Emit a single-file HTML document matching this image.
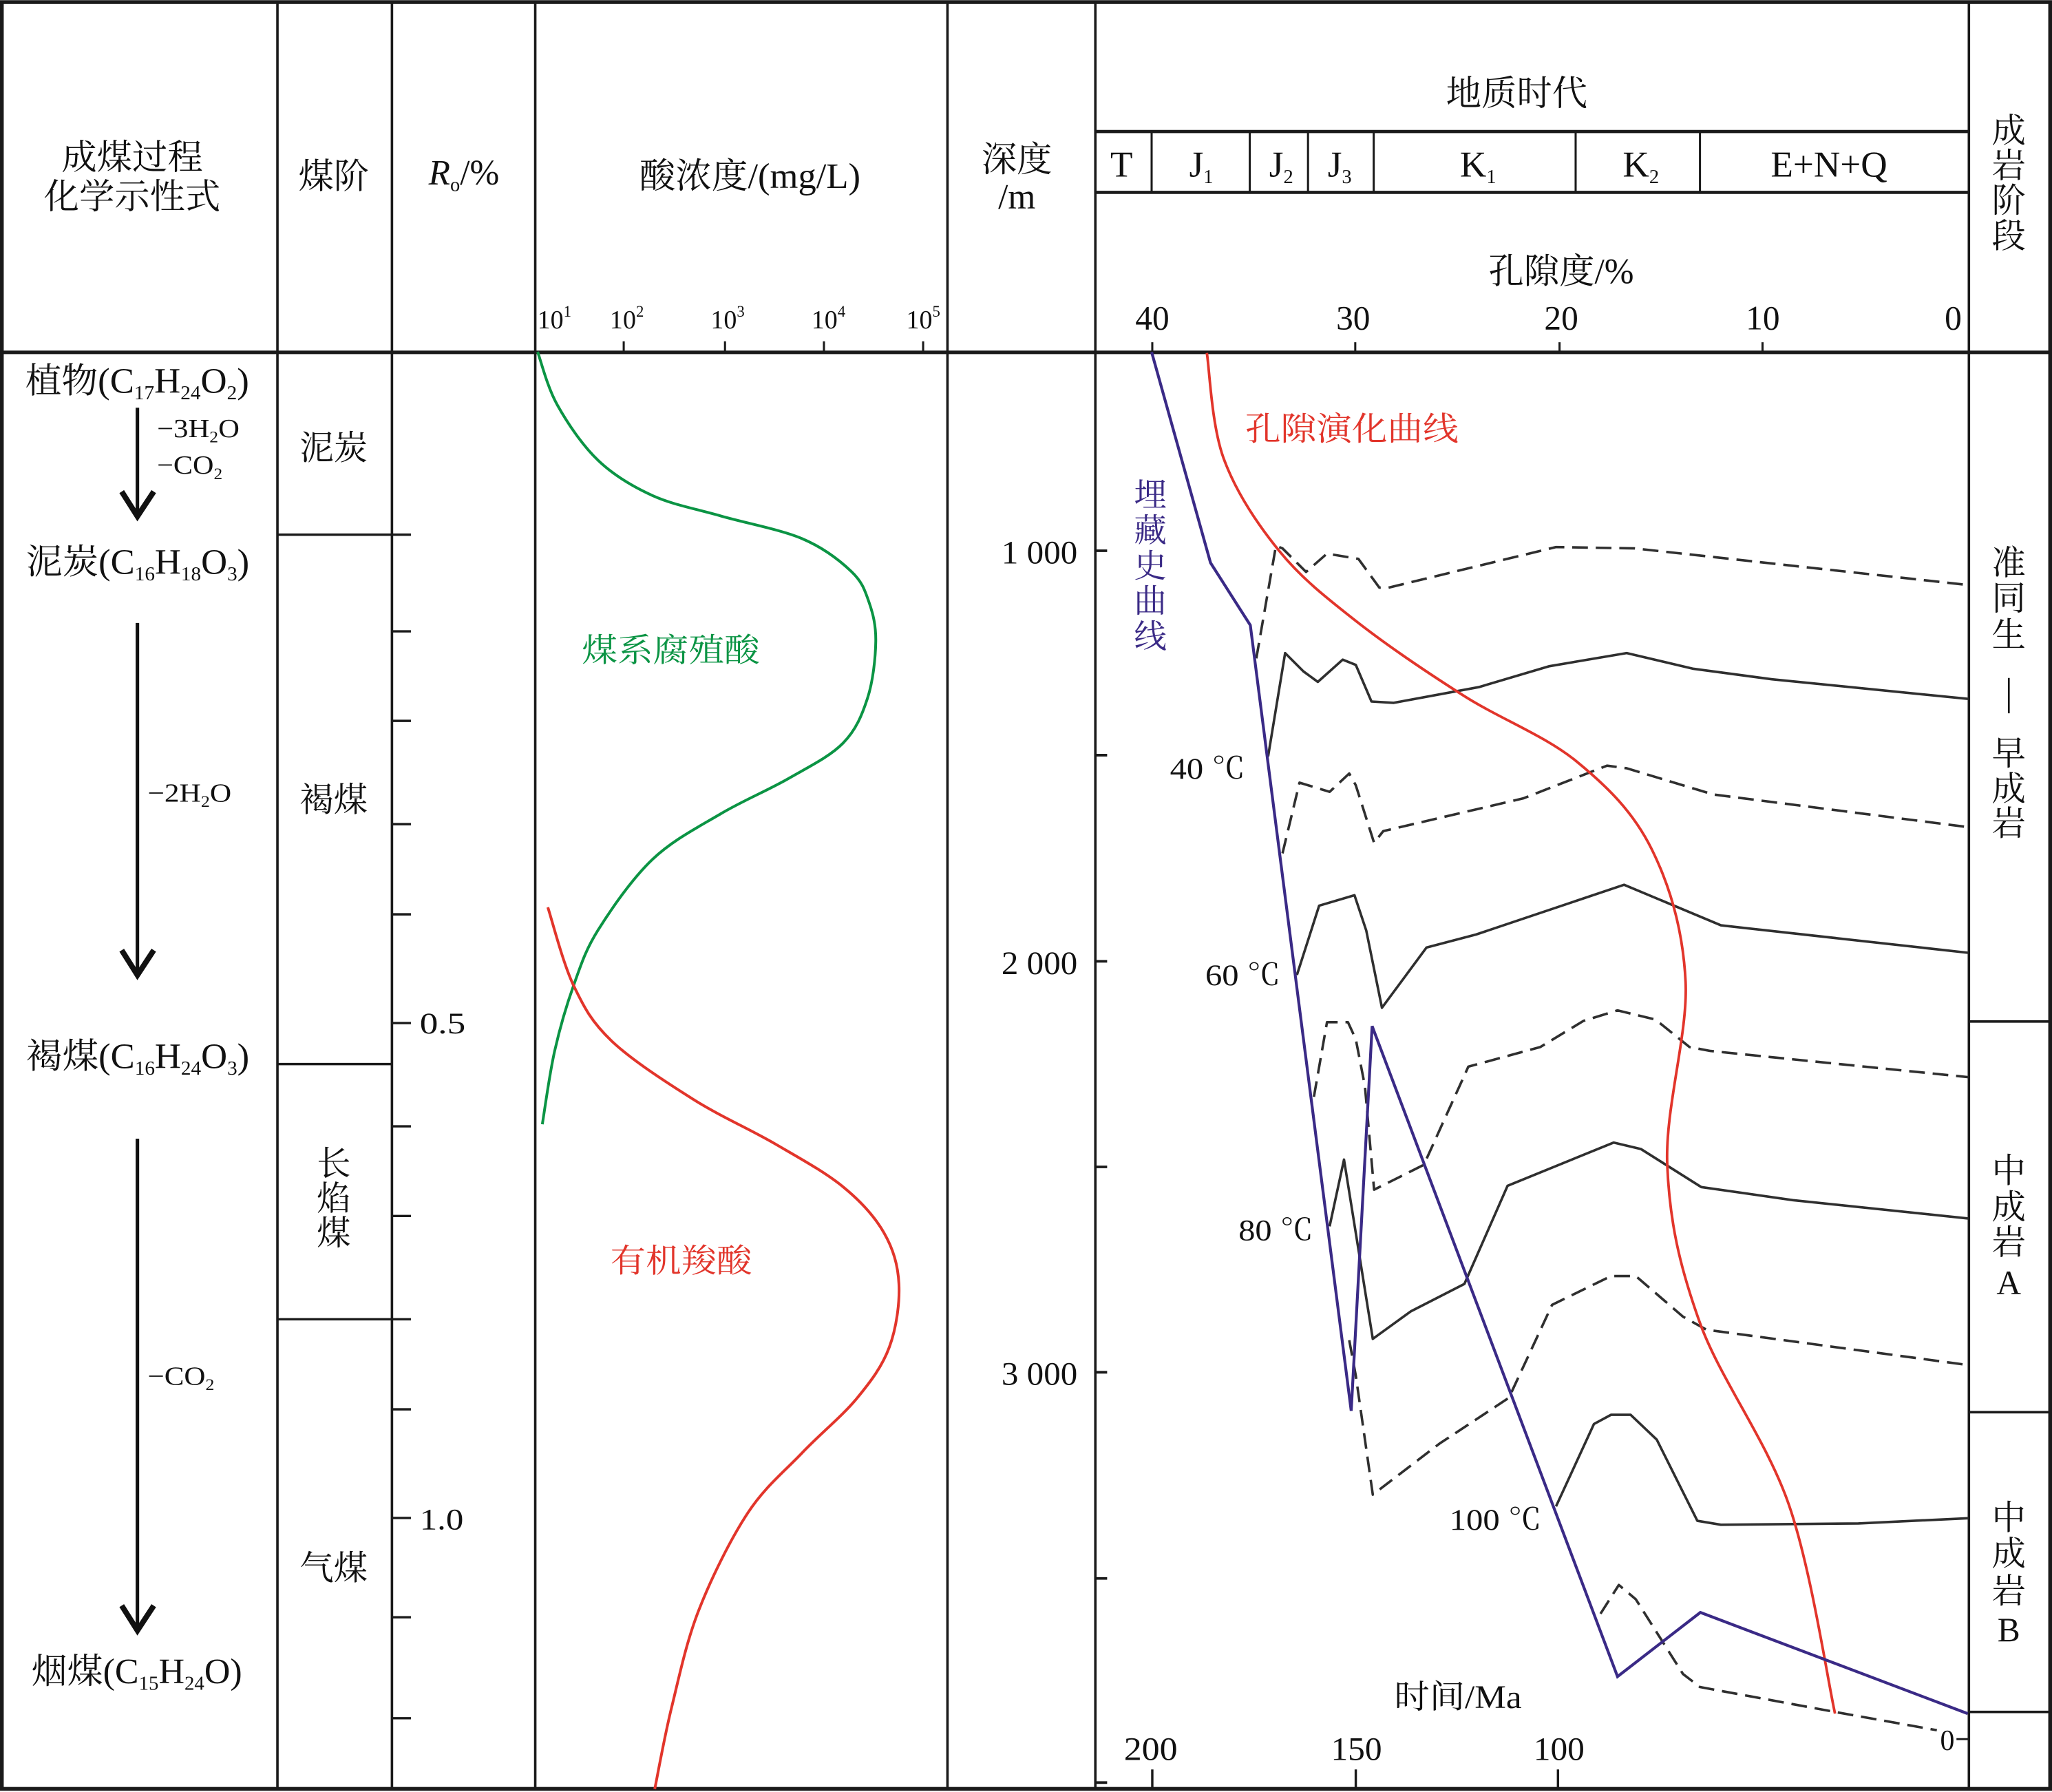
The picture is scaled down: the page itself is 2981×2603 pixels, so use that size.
<!DOCTYPE html>
<html><head><meta charset="utf-8">
<style>
html,body{margin:0;padding:0;background:#fff;}
svg{display:block;}
text{font-family:"Liberation Serif","Noto Serif CJK SC",serif;fill:#111;}
</style></head><body>
<svg xmlns="http://www.w3.org/2000/svg" width="2981" height="2603" viewBox="0 0 1568 1369.2" preserveAspectRatio="none">
<rect width="1568" height="1369.2" fill="#fff"/>

<!-- frame and grid -->
<g stroke="#1a1a1a" fill="none">
  <rect x="1.4" y="1.6" width="1565.2" height="1365.2" stroke-width="2.9"/>
  <g stroke-width="1.9">
    <path d="M212,1.6V1366.8 M299.5,1.6V1366.8 M409,1.6V1366.8 M724,1.6V1366.8 M837,1.6V1366.8 M1504.5,1.6V1366.8"/>
  </g>
  <path d="M0,269.2H1568" stroke-width="2.7"/>
  <path d="M837,100.5H1504.5 M837,147H1504.5" stroke-width="2.4"/>
  <path d="M880,100.5V147 M955,100.5V147 M999.5,100.5V147 M1049.7,100.5V147 M1204,100.5V147 M1299,100.5V147" stroke-width="1.6"/>
  <path d="M1504.5,780.5H1566.7 M1504.5,1079H1566.7 M1504.5,1308H1566.7" stroke-width="1.9"/>
  <path d="M212,408.5H314 M212,813H300 M212,1008H314" stroke-width="1.8"/>
  <path d="M299.5,482.4H314 M299.5,550.8H314 M299.5,629.7H314 M299.5,698.6H314 M299.5,781.7H314 M299.5,860.6H314 M299.5,929.1H314 M299.5,1076.8H314 M299.5,1159.8H314 M299.5,1235.7H314 M299.5,1312.8H314" stroke-width="1.8"/>
  <path d="M476.6,260.8V269 M554,260.8V269 M629.6,260.8V269 M705.4,260.8V269" stroke-width="1.6"/>
  <path d="M880.5,261.5V269 M1035.6,261.5V269 M1191.7,261.5V269 M1346.8,261.5V269" stroke-width="1.6"/>
  <path d="M837,420.8H846 M837,577H846 M837,734.5H846 M837,891.6H846 M837,1048.5H846 M837,1206H846 M837,1362H846" stroke-width="2"/>
  <path d="M880.5,1352V1366.8 M1036,1352V1366.8 M1190.5,1352V1366.8" stroke-width="1.8"/>
  <path d="M1495,1328.8H1504.5" stroke-width="1.5"/>
</g>

<!-- header texts -->
<text x="101" y="129.5" font-size="27" text-anchor="middle">成煤过程</text>
<text x="101" y="159.5" font-size="27" text-anchor="middle">化学示性式</text>
<text x="255" y="144" font-size="27" text-anchor="middle">煤阶</text>
<text x="327.5" y="141" font-size="27"><tspan font-style="italic">R</tspan><tspan font-size="15" dy="5">o</tspan><tspan dy="-5">/%</tspan></text>
<text x="488.5" y="143.5" font-size="27" textLength="169" lengthAdjust="spacingAndGlyphs">酸浓度/(mg/L)</text>
<text x="777" y="131" font-size="27" text-anchor="middle">深度</text>
<text x="777" y="159.5" font-size="27" text-anchor="middle">/m</text>
<text x="1159" y="80.5" font-size="27" text-anchor="middle">地质时代</text>
<text x="1193" y="216.5" font-size="27" text-anchor="middle">孔隙度/%</text>

<g font-size="28">
  <text x="857" y="135" text-anchor="middle">T</text>
  <text x="908.7" y="135">J<tspan font-size="15" dy="5">1</tspan></text>
  <text x="969.8" y="135">J<tspan font-size="15" dy="5">2</tspan></text>
  <text x="1014.5" y="135">J<tspan font-size="15" dy="5">3</tspan></text>
  <text x="1115.6" y="135">K<tspan font-size="15" dy="5">1</tspan></text>
  <text x="1240" y="135">K<tspan font-size="15" dy="5">2</tspan></text>
  <text x="1397.6" y="135" text-anchor="middle">E+N+Q</text>
</g>

<g font-size="26" text-anchor="middle">
  <text x="1535" y="108.5">成</text>
  <text x="1535" y="135.5">岩</text>
  <text x="1535" y="162">阶</text>
  <text x="1535" y="189">段</text>
</g>

<!-- porosity axis labels -->
<g font-size="26" text-anchor="middle">
  <text x="880.5" y="251.7">40</text>
  <text x="1034" y="251.7">30</text>
  <text x="1193" y="251.7">20</text>
  <text x="1347" y="251.7">10</text>
  <text x="1492.5" y="251.7">0</text>
</g>

<!-- acid axis labels -->
<g font-size="20">
  <text x="410.6" y="251">10<tspan font-size="12" dy="-9">1</tspan></text>
  <text x="466" y="251">10<tspan font-size="12" dy="-9">2</tspan></text>
  <text x="543" y="251">10<tspan font-size="12" dy="-9">3</tspan></text>
  <text x="620" y="251">10<tspan font-size="12" dy="-9">4</tspan></text>
  <text x="692.5" y="251">10<tspan font-size="12" dy="-9">5</tspan></text>
</g>

<!-- left column formulas -->
<g font-size="27">
  <text x="19.3" y="300" textLength="171" lengthAdjust="spacingAndGlyphs">植物(C<tspan font-size="15" dy="5">17</tspan><tspan dy="-5">H</tspan><tspan font-size="15" dy="5">24</tspan><tspan dy="-5">O</tspan><tspan font-size="15" dy="5">2</tspan><tspan dy="-5">)</tspan></text>
  <text x="20" y="438.5" textLength="170.5" lengthAdjust="spacingAndGlyphs">泥炭(C<tspan font-size="15" dy="5">16</tspan><tspan dy="-5">H</tspan><tspan font-size="15" dy="5">18</tspan><tspan dy="-5">O</tspan><tspan font-size="15" dy="5">3</tspan><tspan dy="-5">)</tspan></text>
  <text x="20" y="816" textLength="170.5" lengthAdjust="spacingAndGlyphs">褐煤(C<tspan font-size="15" dy="5">16</tspan><tspan dy="-5">H</tspan><tspan font-size="15" dy="5">24</tspan><tspan dy="-5">O</tspan><tspan font-size="15" dy="5">3</tspan><tspan dy="-5">)</tspan></text>
  <text x="24" y="1286" textLength="161" lengthAdjust="spacingAndGlyphs">烟煤(C<tspan font-size="15" dy="5">15</tspan><tspan dy="-5">H</tspan><tspan font-size="15" dy="5">24</tspan><tspan dy="-5">O)</tspan></text>
</g>
<g font-size="20">
  <text x="120" y="334" textLength="63" lengthAdjust="spacingAndGlyphs">−3H<tspan font-size="12" dy="4">2</tspan><tspan dy="-4">O</tspan></text>
  <text x="120" y="362" textLength="50" lengthAdjust="spacingAndGlyphs">−CO<tspan font-size="12" dy="4">2</tspan></text>
  <text x="112.8" y="612.5" textLength="64" lengthAdjust="spacingAndGlyphs">−2H<tspan font-size="12" dy="4">2</tspan><tspan dy="-4">O</tspan></text>
  <text x="112.8" y="1058" textLength="51" lengthAdjust="spacingAndGlyphs">−CO<tspan font-size="12" dy="4">2</tspan></text>
</g>
<g stroke="#111" fill="none">
  <path d="M105,311.5V394 M105,476V745.5 M105,870V1245" stroke-width="2.7"/>
  <path d="M93,375.6L105,394.5L117.5,375.6 M93,726L105,745L117.5,726 M93,1226.8L105,1245.8L117.5,1226.8" stroke-width="4.2" stroke-linejoin="miter"/>
</g>

<!-- coal rank labels -->
<g font-size="26" text-anchor="middle">
  <text x="255" y="351">泥炭</text>
  <text x="255" y="620">褐煤</text>
  <text x="255" y="898">长</text>
  <text x="255" y="924.5">焰</text>
  <text x="255" y="951">煤</text>
  <text x="255" y="1207">气煤</text>
</g>

<!-- Ro labels -->
<text x="320.7" y="789.5" font-size="23" textLength="35" lengthAdjust="spacingAndGlyphs">0.5</text>
<text x="320.7" y="1168.5" font-size="23" textLength="33.5" lengthAdjust="spacingAndGlyphs">1.0</text>

<!-- acid curves -->
<path d="M410.8,268.8 C413.3,275.55 418.08,295.47 425.8,309.3 C433.52,323.13 444.95,340.23 457.1,351.8 C469.25,363.37 483.1,371.63 498.7,378.7 C514.3,385.77 531.65,388.72 550.7,394.2 C569.75,399.68 596.37,404.53 613,411.6 C629.63,418.67 642,428.53 650.5,436.6 C659,444.67 660.88,451.1 664,460 C667.12,468.9 669.37,477.82 669.2,490 C669.03,502.18 667.17,520.13 663,533.1 C658.83,546.07 654.27,557.52 644.2,567.8 C634.13,578.08 618.18,585.8 602.6,594.8 C587.02,603.8 568.02,611.52 550.7,621.8 C533.38,632.08 514.3,641.72 498.7,656.5 C483.1,671.28 467.17,694.42 457.1,710.5 C447.03,726.58 443.85,737.55 438.3,753 C432.75,768.45 427.78,785.53 423.8,803.2 C419.82,820.87 415.97,849.7 414.4,859" fill="none" stroke="#0b9444" stroke-width="2.1"/>
<path d="M418.6,693.2 C421.88,703.17 430.17,735.97 438.3,753 C446.43,770.03 452.15,780.9 467.4,795.4 C482.65,809.9 508.98,826.9 529.8,840 C550.62,853.1 573.23,862.87 592.3,874 C611.37,885.13 630.35,895.5 644.2,906.8 C658.05,918.1 668.28,929.42 675.4,941.8 C682.52,954.18 686.2,966.53 686.9,981.1 C687.6,995.67 684.97,1014.63 679.6,1029.2 C674.23,1043.77 665.8,1055.03 654.7,1068.5 C643.6,1081.97 626.88,1095.42 613,1110 C599.12,1124.58 584.57,1135.97 571.4,1156 C558.23,1176.03 543.7,1205.43 534,1230.2 C524.3,1254.97 518.82,1281.8 513.2,1304.6 C507.58,1327.4 502.45,1356.6 500.3,1367" fill="none" stroke="#e2352b" stroke-width="2.1"/>
<text x="444.6" y="505.5" font-size="25" style="fill:#0b9444" textLength="136" lengthAdjust="spacingAndGlyphs">煤系腐殖酸</text>
<text x="466.4" y="972" font-size="25" style="fill:#e2352b" textLength="108.2" lengthAdjust="spacingAndGlyphs">有机羧酸</text>

<!-- depth labels -->
<g font-size="25" text-anchor="end">
  <text x="823.3" y="430.5" textLength="58" lengthAdjust="spacingAndGlyphs">1 000</text>
  <text x="823.3" y="744.2" textLength="58" lengthAdjust="spacingAndGlyphs">2 000</text>
  <text x="823.3" y="1058.2" textLength="58" lengthAdjust="spacingAndGlyphs">3 000</text>
</g>

<!-- isotherm lines -->
<g fill="none" stroke="#2f2f2f" stroke-width="1.9" stroke-linejoin="round">
  <polyline stroke-dasharray="12 6" points="960,503 975,417 980,419 998,437 1014,423 1038,427 1054,449 1061,449 1189,418 1249,419 1504,447"/>
  <polyline points="969,578 982,499 996,513 1007,521 1026,504 1036,508 1048,536 1065,537 1130,525 1184,509 1243,499 1294,511 1354,519 1504,534"/>
  <polyline stroke-dasharray="12 6" points="980,652 993,598 1016,605 1031,591 1036,600 1050,644 1057,635 1164,610 1228,585 1243,587 1309,607 1504,632"/>
  <polyline points="991,745 1008,692 1035,684 1044,711 1056,770 1090,724 1128,714 1241,676 1315,707 1504,728"/>
  <polyline stroke-dasharray="12 6" points="1004,838 1014,781 1030,781 1036,794 1043,830 1050,909 1088,890 1122,815 1177,800 1210,780 1236,772 1265,779 1291,800 1307,803 1504,823"/>
  <polyline points="1016,937 1027,886 1049,1023 1078,1002 1119,981 1152,906 1233,873 1254,878 1300,907 1370,917 1504,931"/>
  <polyline stroke-dasharray="12 6" points="1031,1024 1036,1051 1049,1142 1100,1103 1153,1068 1186,997 1231,975 1250,975 1286,1006 1304,1016 1504,1043"/>
  <polyline points="1189,1151 1218,1088 1231,1081 1246,1081 1266,1100 1297,1162 1315,1165 1420,1164 1504,1160"/>
  <polyline stroke-dasharray="12 6" points="1223,1233 1237,1211 1250,1222 1286,1279 1299,1289 1402,1308 1480,1322"/>
</g>

<!-- porosity evolution curve -->
<path d="M922.2,269.7 C924.3,283.1 925.8,325 935,350.2 C944.2,375.4 960.5,400 977.3,420.7 C994.1,441.4 1012.5,455.95 1036,474.4 C1059.5,492.85 1090.1,513.5 1118.2,531.4 C1146.3,549.3 1180.6,562.1 1204.6,581.7 C1228.6,601.3 1248.2,620.75 1262.1,648.8 C1276,676.85 1286,709.8 1288,750 C1290,790.2 1272.2,846.6 1274,890 C1275.8,933.4 1283.3,967 1298.8,1010.3 C1314.3,1053.6 1349.7,1099.8 1366.9,1149.6 C1384.1,1199.4 1396.3,1282.7 1402.2,1309.3" fill="none" stroke="#e2352b" stroke-width="2"/>

<!-- burial history -->
<polyline points="880,269 925,430 955.4,477.7 1032.5,1078 1048.5,784 1236,1281 1299.3,1232 1503.6,1309.3" fill="none" stroke="#3a2a86" stroke-width="2.2" stroke-linejoin="miter"/>

<!-- plot labels -->
<text x="951.5" y="336.5" font-size="25" style="fill:#e2352b" textLength="163" lengthAdjust="spacingAndGlyphs">孔隙演化曲线</text>
<g font-size="25" text-anchor="middle">
  <text x="879" y="387" style="fill:#3a2a86">埋</text>
  <text x="879" y="414" style="fill:#3a2a86">藏</text>
  <text x="879" y="441" style="fill:#3a2a86">史</text>
  <text x="879" y="468" style="fill:#3a2a86">曲</text>
  <text x="879" y="495" style="fill:#3a2a86">线</text>
</g>
<g font-size="23">
  <text x="894" y="595" textLength="57.5" lengthAdjust="spacingAndGlyphs">40 ℃</text>
  <text x="921" y="752.8" textLength="57.5" lengthAdjust="spacingAndGlyphs">60 ℃</text>
  <text x="946.4" y="947.6" textLength="57.2" lengthAdjust="spacingAndGlyphs">80 ℃</text>
  <text x="1107.6" y="1168.8" textLength="70.4" lengthAdjust="spacingAndGlyphs">100 ℃</text>
</g>

<!-- time axis -->
<g font-size="25" text-anchor="middle">
  <text x="879.3" y="1344.8" textLength="41" lengthAdjust="spacingAndGlyphs">200</text>
  <text x="1036.5" y="1344.8" textLength="39" lengthAdjust="spacingAndGlyphs">150</text>
  <text x="1191.3" y="1344.8" textLength="39" lengthAdjust="spacingAndGlyphs">100</text>
</g>
<text x="1065.4" y="1305" font-size="25" textLength="97.4" lengthAdjust="spacingAndGlyphs">时间/Ma</text>
<text x="1488" y="1337" font-size="22" text-anchor="middle">0</text>

<!-- diagenesis stages -->
<g font-size="26" text-anchor="middle">
  <text x="1535" y="439">准</text>
  <text x="1535" y="466">同</text>
  <text x="1535" y="494">生</text>
  <text x="1535" y="584.5">早</text>
  <text x="1535" y="611.5">成</text>
  <text x="1535" y="638">岩</text>
  <text x="1535" y="903.5">中</text>
  <text x="1535" y="931">成</text>
  <text x="1535" y="958">岩</text>
  <text x="1535" y="989">A</text>
  <text x="1535" y="1168.5">中</text>
  <text x="1535" y="1196">成</text>
  <text x="1535" y="1224.5">岩</text>
  <text x="1535" y="1254">B</text>
</g>
<path d="M1535,518V545" stroke="#111" stroke-width="1.4"/>
</svg>
</body></html>
